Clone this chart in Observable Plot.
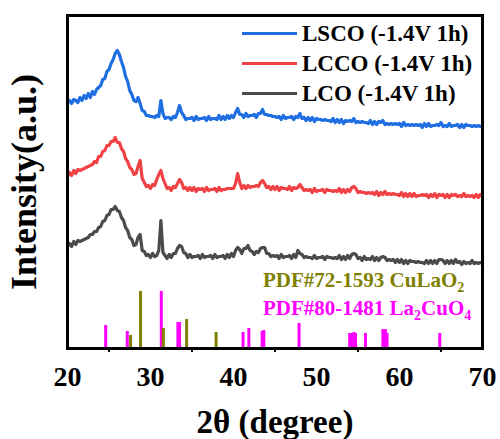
<!DOCTYPE html>
<html><head><meta charset="utf-8">
<script src="https://cdn.jsdelivr.net/npm/d3@7"></script>
<script src="https://cdn.jsdelivr.net/npm/@observablehq/plot@0.6"></script>
<style>
body{margin:0;background:#fff;}
#wrap{position:relative;width:500px;height:439px;font-family:"Liberation Serif","Times New Roman",serif;font-weight:bold;}
.leg{position:absolute;left:242px;display:flex;align-items:center;font-size:23px;line-height:23px;height:23px;white-space:nowrap;}
.leg .sw{display:inline-block;width:55px;height:3px;margin-right:5px;}
.pdf{position:absolute;left:263px;font-size:21px;line-height:21px;white-space:nowrap;}
.pdf .s{font-size:14px;position:relative;top:5px;}
g[aria-label="x-axis label"] text{font-size:33px;}
g[aria-label="y-axis label"] text{font-size:36px;}
</style>
</head><body>
<div id="wrap"></div>
<script>
// 2-theta sampling grid (degrees), 0.25 step from 20 to 70
const theta = d3.range(0, 201).map(i => 20 + i * 0.25);

// Intensities (a.u., stacked/offset as in the figure), 4 samples per degree
const lsco = [
246,248,245,249, 248,246,251,248, 253,250,255,251, 257,254,259,261, 263,269,270,277,
279,285,289,295, 298,294,287,281, 272,267,258,254, 248,247,251,245, 238,237,233,233,
232,232,231,233, 232,248,235,230, 231,231,229,232, 231,236,243,236, 233,229,230,230,
231,228,232,229, 230,230,231,228, 232,229,230,230, 229,233,229,232, 229,233,230,233,
231,236,240,234, 234,231,235,232, 233,233,234,231, 235,235,239,234, 234,233,233,232,
232,231,232,229, 233,230,231,231, 232,229,232,231, 235,230,231,228, 231,228,231,227,
230,229,229,228, 229,228,228,227, 230,226,229,226, 229,225,228,227, 228,227,230,226,
227,226,227,226, 226,225,228,224, 227,224,227,226, 228,224,225,224, 225,224,225,224,
225,222,226,223, 224,223,224,223, 224,223,224,221, 225,222,225,222, 223,223,224,223,
226,222,223,222, 225,222,223,223, 224,221,224,221, 224,223,223,222, 223,222,223,222,
222];
const lcco = [
172,176,173,178, 175,179,178,179, 180,181,182,183, 184,187,186,192, 192,197,198,203,
203,207,207,211, 206,206,200,197, 190,187,181,179, 174,175,182,188, 170,166,162,163,
160,164,163,169, 174,178,170,165, 160,161,158,162, 161,165,169,166, 160,161,158,161,
158,161,157,160, 159,160,157,161, 158,159,159,160, 157,161,158,159, 159,160,160,160,
160,165,175,166, 160,163,160,163, 161,162,162,163, 162,166,168,165, 161,162,159,162,
159,162,158,161, 160,160,159,162, 158,161,160,161, 164,161,158,159, 158,159,156,160,
157,158,158,159, 156,159,158,158, 157,158,157,160, 156,159,156,159, 157,161,162,160,
156,157,156,156, 155,156,155,156, 154,157,153,156, 154,157,154,155, 154,155,154,154,
153,156,152,155, 152,155,152,155, 152,153,153,154, 153,154,151,154, 152,155,151,154,
153,154,151,154, 151,154,153,154, 152,153,152,155, 152,153,152,153, 151,154,151,154,
153];
const lco = [
102,105,102,107, 104,108,107,108, 109,110,111,114, 114,117,117,121, 122,127,128,133,
134,139,139,142, 138,137,131,128, 121,118,111,109, 103,104,111,114, 98,97,93,94,
91,95,92,93, 98,128,96,93, 90,94,91,95, 95,100,103,102, 96,95,91,94,
91,92,92,93, 90,94,91,92, 92,93,90,94, 91,92,92,93, 90,94,91,95,
92,98,101,99, 95,100,100,103, 98,97,94,97, 96,100,101,101, 95,95,92,93,
92,93,90,94, 91,92,92,93, 90,94,91,98, 95,94,91,92, 91,91,90,93,
90,91,91,92, 89,92,91,91, 90,91,90,93, 89,92,89,93, 90,94,95,94,
90,91,88,92, 89,90,89,92, 88,91,88,91, 92,91,88,89, 88,89,86,89,
86,89,85,88, 85,88,87,87, 86,87,86,86, 85,88,85,88, 85,88,85,89,
89,88,85,88, 85,88,85,89, 86,87,84,87, 85,86,85,88, 85,86,85,86,
86];

// Reference patterns (stick positions and relative heights)
const cuLaO2Theta  = [27.6, 28.8, 31.55, 34.35, 37.9];
const cuLaO2Height = [13, 57, 20, 29, 16];
const la2CuO4Theta  = [24.6, 27.2, 31.3, 33.3, 33.5, 41.15, 41.85, 43.45, 43.65, 47.9, 54.0, 54.2, 54.5, 54.7, 55.9, 58.0, 58.3, 58.5, 64.85];
const la2CuO4Height = [23, 17, 57, 26, 26, 16, 20, 17, 18, 25, 15, 15, 16, 15, 15, 19, 19, 15, 15];

const seriesNames = ["LSCO (-1.4V 1h)", "LCCO (-1.4V 1h)", "LCO (-1.4V 1h)"];
const seriesColors = ["#1f6fe3", "#f04245", "#4b4b4b"];
const majorTicks = [20, 30, 40, 50, 60, 70];
const minorTicks = [25, 35, 45, 55, 65];

const rows = (arr, name) => theta.map((t, i) => ({theta: t, intensity: arr[i], series: name}));
const lines = [...rows(lco, seriesNames[2]), ...rows(lcco, seriesNames[1]), ...rows(lsco, seriesNames[0])];
const sticksA = cuLaO2Theta.map((t, i) => ({theta: t, h: cuLaO2Height[i]}));
const sticksB = la2CuO4Theta.map((t, i) => ({theta: t, h: la2CuO4Height[i]}));

const chart = Plot.plot({
  width: 500, height: 439,
  marginLeft: 67, marginRight: 18, marginTop: 15, marginBottom: 91,
  style: {fontFamily: '"Liberation Serif","Times New Roman",serif', fontWeight: "bold", fontSize: "28px", color: "#000", background: "#fff"},
  x: {domain: [20, 70]},
  y: {domain: [0, 333]},
  color: {domain: seriesNames, range: seriesColors},
  marks: [
    Plot.ruleX(sticksB, {x: "theta", y1: 0, y2: "h", stroke: "#ff00ff", strokeWidth: 3}),
    Plot.ruleX(sticksA, {x: "theta", y1: 0, y2: "h", stroke: "#808000", strokeWidth: 3}),
    Plot.line(lines, {x: "theta", y: "intensity", z: "series", stroke: "series", strokeWidth: 3.2, strokeLinejoin: "round"}),
    Plot.frame({stroke: "#000", strokeWidth: 3}),
    Plot.axisX({ticks: minorTicks, tickSize: 4, tickFormat: () => "", label: null, strokeWidth: 2}),
    Plot.axisX({ticks: majorTicks, tickSize: 0, tickPadding: 18, fontSize: 28, label: "2θ (degree)", labelAnchor: "center", labelOffset: 84, labelArrow: false}),
    Plot.axisY({ticks: [], tickSize: 0, label: "Intensity(a.u.)", labelAnchor: "center", labelOffset: 57, labelArrow: false})
  ]
});
const wrap = document.getElementById("wrap");
wrap.appendChild(chart);

// legend overlay
const legTops = [21.5, 51.5, 81.5];
seriesNames.forEach((n, i) => {
  const d = document.createElement("div");
  d.className = "leg";
  d.style.top = legTops[i] + "px";
  d.innerHTML = `<span class="sw" style="background:${seriesColors[i]}"></span><span>${n}</span>`;
  wrap.appendChild(d);
});
// reference card labels
const p1 = document.createElement("div");
p1.className = "pdf"; p1.style.top = "270px"; p1.style.color = "#808000";
p1.innerHTML = 'PDF#72-1593 CuLaO<span class="s">2</span>';
wrap.appendChild(p1);
const p2 = document.createElement("div");
p2.className = "pdf"; p2.style.top = "298px"; p2.style.color = "#ff00ff";
p2.innerHTML = 'PDF#80-1481 La<span class="s">2</span>CuO<span class="s">4</span>';
wrap.appendChild(p2);
</script>
</body></html>
